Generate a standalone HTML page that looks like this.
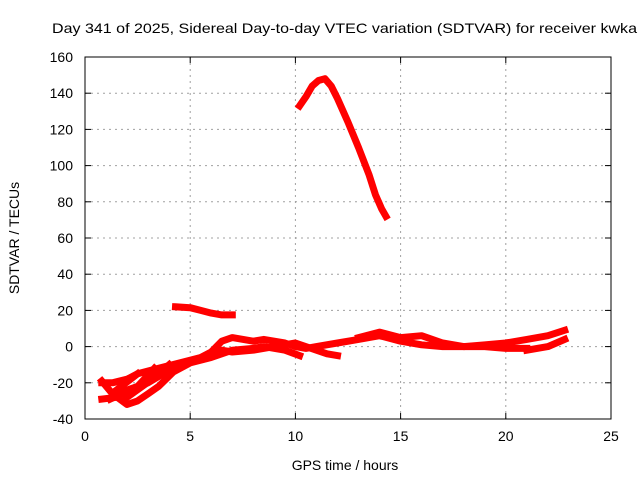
<!DOCTYPE html>
<html><head><meta charset="utf-8"><style>
body{margin:0;background:#fff;}
svg text{font-family:"Liberation Sans",sans-serif;font-size:14px;fill:#000;}
</style></head><body>
<svg id="chart" width="640" height="480">
<rect width="640" height="480" fill="#fff"/>
<text x="52" y="33" textLength="585" lengthAdjust="spacingAndGlyphs">Day 341 of 2025, Sidereal Day-to-day VTEC variation (SDTVAR) for receiver kwka</text>
<g id="grid"></g><g id="axes"></g><g id="series"></g>
<text x="345" y="470" text-anchor="middle">GPS time / hours</text>
<text transform="translate(19,238) rotate(-90)" text-anchor="middle">SDTVAR / TECUs</text>
</svg>
<script>
const xTicks=[0,5,10,15,20,25];
const yTicks=[-40,-20,0,20,40,60,80,100,120,140,160];
const arcX=[10.2,10.5,10.8,11.1,11.4,11.7,12.0,12.5,13.0,13.5,13.8,14.1,14.3];
const arcY=[133,138,144,147,148,144,137,124,110,95,84,76,72];
const s2X=[4.3,5,5.5,6,6.5,7];
const s2Y=[22,21.5,20,18.5,17.5,17.5];
const s3X=[0.8,1.3,2,2.5,3.5,4.5,5.5,6,6.5,7,8,8.5,9.5,10,10.5,11,12,13,14,15,16,17,18,19,20,21,22,22.8];
const s3Y=[-20,-20,-18,-15,-12,-9,-6,-3,3,5,3,4,2,0,-1,0,2,4,6,3,1,0,0,1,2,4,6,9];
const s4X=[0.8,1.5,2,3,4,5,5.8,6.5,7,8,9,10,11,11.5,12];
const s4Y=[-29,-28,-24,-20,-13,-8,-5,-2,-3,-2,0,2,-2,-4,-5];
const s5X=[0.8,1.3,2,2.5,3,3.5,4.2,5,6,7,8,8.5,9.5,10.2];
const s5Y=[-19,-26,-32,-30,-26,-22,-14,-9,-6,-2,-1,0,-2,-5];
const s6X=[1.2,2.5,3.3];
const s6Y=[-29,-22,-12];
const s7X=[2,3.2,4];
const s7Y=[-28,-18,-10];
const s8X=[1.5,2.5];
const s8Y=[-24,-15];
const s9X=[21,22,22.8];
const s9Y=[-2,0,4];
const s10X=[13,14,15,16,17,18,19,20,21];
const s10Y=[5,8,5,6,2,0,0,-1,-1];
const X0=85,X1=611,Y0=419,Y1=57;
const xs=v=>X0+(v-0)/(25-0)*(X1-X0);
const ys=v=>Y0-(v+40)/200*(Y0-Y1);
const NS="http://www.w3.org/2000/svg";
function mk(t,a,p){const e=document.createElementNS(NS,t);for(const k in a)e.setAttribute(k,a[k]);p.appendChild(e);return e;}
const grid=document.getElementById('grid'),axes=document.getElementById('axes'),ser=document.getElementById('series');
mk('rect',{x:X0,y:Y1,width:X1-X0,height:Y0-Y1,fill:'none',stroke:'#000','stroke-width':1},axes);
xTicks.forEach(t=>{const x=xs(t);
 if(t>0&&t<25){const g=mk('line',{x1:x,x2:x,y1:Y1,y2:Y0,stroke:'#a0a0a0','stroke-dasharray':'2,4'},grid);}
 mk('line',{x1:x,x2:x,y1:Y0,y2:Y0-6,stroke:'#000'},axes);mk('line',{x1:x,x2:x,y1:Y1,y2:Y1+6,stroke:'#000'},axes);
 const tx=mk('text',{x:x,y:Y0+22,'text-anchor':'middle'},axes);tx.textContent=t;
 });
yTicks.forEach(t=>{const y=ys(t);
 if(t>-40&&t<160){const g=mk('line',{x1:X0,x2:X1,y1:y,y2:y,stroke:'#a0a0a0','stroke-dasharray':'2,4'},grid);}
 mk('line',{x1:X0,x2:X0+6,y1:y,y2:y,stroke:'#000'},axes);mk('line',{x1:X1,x2:X1-6,y1:y,y2:y,stroke:'#000'},axes);
 const tx=mk('text',{x:X0-12,y:y+5,'text-anchor':'end'},axes);tx.textContent=t;
 });
const all=[[arcX,arcY],[s2X,s2Y],[s3X,s3Y],[s4X,s4Y],[s5X,s5Y],[s6X,s6Y],[s7X,s7Y],[s8X,s8Y],[s9X,s9Y],[s10X,s10Y]];
all.forEach((s,i)=>{const pts=s[0].map((x,j)=>xs(x).toFixed(1)+','+ys(s[1][j]).toFixed(1)).join(' ');
 const p=mk('polyline',{points:pts,fill:'none',stroke:'#ff0000','stroke-width':7,'stroke-linejoin':'round','stroke-linecap':'square'},ser);
 
 });
</script>
</body></html>
